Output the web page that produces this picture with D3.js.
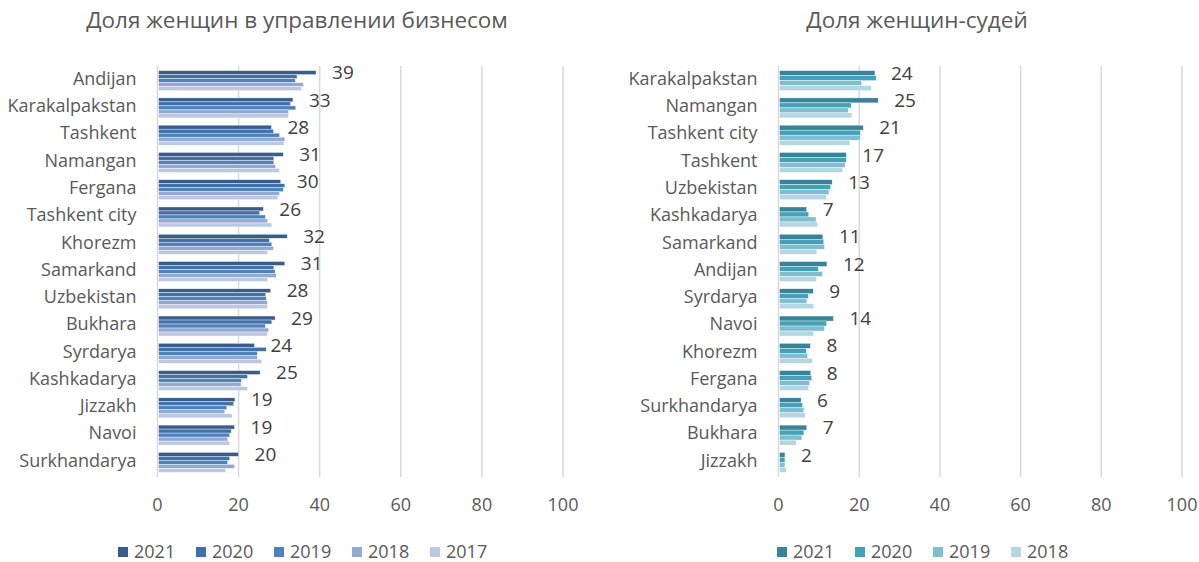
<!DOCTYPE html>
<html>
<head>
<meta charset="utf-8">
<title>Women share</title>
<style>
  body { margin: 0; background: #fff; font-family: "Open Sans", sans-serif; }
  text { fill: #595959; }
</style>
</head>
<body>
<div id="vis"></div>
<script src="https://d3js.org/d3.v7.min.js"></script>
<script>
// left chart: business
var bizRegions = ["Andijan", "Karakalpakstan", "Tashkent", "Namangan", "Fergana", "Tashkent city",
  "Khorezm", "Samarkand", "Uzbekistan", "Bukhara", "Syrdarya", "Kashkadarya", "Jizzakh", "Navoi", "Surkhandarya"];
var bizYears = ["2021", "2020", "2019", "2018", "2017"];
var biz2021 = [39.1, 33.4, 28.1, 31.0, 30.4, 26.1, 32.0, 31.4, 27.9, 29.0, 23.9, 25.3, 19.1, 19.0, 20.0];
var biz2020 = [34.4, 32.8, 28.6, 28.7, 31.4, 25.2, 27.6, 28.7, 26.7, 28.2, 26.8, 22.2, 18.8, 18.2, 17.8];
var biz2019 = [34.0, 34.1, 30.1, 28.7, 31.0, 26.6, 28.2, 29.0, 26.8, 26.6, 24.6, 20.7, 17.1, 17.8, 17.3];
var biz2018 = [36.0, 32.3, 31.4, 29.1, 30.1, 27.1, 28.6, 29.3, 27.1, 27.4, 24.6, 20.6, 16.6, 17.3, 19.0];
var biz2017 = [35.5, 32.3, 31.2, 30.1, 29.7, 28.2, 27.2, 27.2, 27.1, 27.1, 25.7, 22.2, 18.4, 17.8, 16.8];
var bizColors = ["#385d8a", "#4270a8", "#4f81bd", "#93a9d2", "#bac8e2"];

// right chart: judges
var judRegions = ["Karakalpakstan", "Namangan", "Tashkent city", "Tashkent", "Uzbekistan", "Kashkadarya",
  "Samarkand", "Andijan", "Syrdarya", "Navoi", "Khorezm", "Fergana", "Surkhandarya", "Bukhara", "Jizzakh"];
var judYears = ["2021", "2020", "2019", "2018"];
var jud2021 = [23.9, 24.7, 21.0, 16.8, 13.3, 7.0, 11.0, 12.0, 8.6, 13.6, 7.9, 8.0, 5.6, 7.0, 1.6];
var jud2020 = [24.2, 18.0, 20.3, 16.8, 12.9, 7.5, 11.2, 9.9, 7.4, 11.9, 6.9, 8.2, 6.0, 6.3, 1.6];
var jud2019 = [20.6, 17.3, 20.3, 16.5, 12.5, 9.3, 11.4, 10.9, 7.0, 11.4, 7.2, 7.7, 6.3, 5.8, 1.6];
var jud2018 = [23.0, 18.2, 17.7, 15.9, 11.9, 9.7, 9.5, 9.4, 8.7, 8.7, 8.4, 7.5, 6.6, 4.4, 1.9];
var judColors = ["#37839a", "#45a1b8", "#7fbdd1", "#b3d6e2"];

var xTicks = [0, 20, 40, 60, 80, 100];

var svg = d3.select("#vis").append("svg")
  .attr("width", 1199)
  .attr("height", 562);

function drawChart(opt) {
  var g = svg.append("g");

  var x = d3.scaleLinear().domain([0, 100]).range([opt.x0, opt.x1]);
  var y = d3.scaleBand().domain(opt.regions).range([67, 476]).paddingInner(0.266).paddingOuter(0.133);
  var y1 = d3.scaleBand().domain(opt.years).range([0, y.bandwidth()]);

  // gridlines
  g.selectAll(".grid")
    .data(xTicks)
    .enter().append("line")
    .attr("x1", function(d) { return x(d); })
    .attr("x2", function(d) { return x(d); })
    .attr("y1", 66)
    .attr("y2", 477)
    .attr("stroke", "#d9d9d9")
    .attr("stroke-width", 1.5);

  // tick labels
  g.selectAll(".tick")
    .data(xTicks)
    .enter().append("text")
    .attr("x", function(d) { return x(d); })
    .attr("y", 505)
    .attr("dy", "0.35em")
    .attr("text-anchor", "middle")
    .style("font-size", "18px")
    .text(function(d) { return d; });

  // category labels
  g.selectAll(".cat")
    .data(opt.regions)
    .enter().append("text")
    .attr("x", opt.x0 - 21)
    .attr("y", function(d) { return y(d) + y.bandwidth() / 2 - 2; })
    .attr("dy", "0.35em")
    .attr("text-anchor", "end")
    .style("font-size", "18px")
    .text(function(d) { return d; });

  var rows = opt.regions.map(function(r, i) {
    return { region: r, vals: opt.years.map(function(yr, j) { return { year: yr, value: opt.series[j][i], c: opt.colors[j] }; }) };
  });

  var grp = g.selectAll(".grp")
    .data(rows)
    .enter().append("g")
    .attr("transform", function(d) { return "translate(0," + y(d.region) + ")"; });

  grp.selectAll("rect")
    .data(function(d) { return d.vals; })
    .enter().append("rect")
    .attr("x", x(0) + 1)
    .attr("y", function(d) { return y1(d.year); })
    .attr("width", function(d) { return x(d.value) - x(0) - 1; })
    .attr("height", y1.bandwidth())
    .attr("fill", function(d) { return d.c; })
    .attr("stroke", "#fff")
    .attr("stroke-width", 0.4);

  // data labels (2021)
  grp.append("text")
    .attr("x", function(d) { return x(d.vals[0].value) + 16; })
    .attr("y", function(d) { return y1(opt.years[0]) + y1.bandwidth() / 2; })
    .attr("dy", "0.35em")
    .style("font-size", "19px")
    .style("fill", "#404040")
    .text(function(d) { return Math.round(d.vals[0].value); });

  // title
  svg.append("text")
    .attr("x", opt.titleX)
    .attr("y", 20)
    .attr("dy", "0.35em")
    .attr("text-anchor", "middle")
    .style("font-size", "22.5px")
    .text(opt.title);

  // legend
  var leg = svg.selectAll(null)
    .data(opt.years)
    .enter().append("g")
    .attr("transform", function(d, i) { return "translate(" + (opt.legX + i * 78) + ",552)"; });
  leg.append("rect")
    .attr("x", 0).attr("y", -5)
    .attr("width", 10).attr("height", 10)
    .attr("fill", function(d, i) { return opt.colors[i]; });
  leg.append("text")
    .attr("x", 16)
    .attr("dy", "0.35em")
    .style("font-size", "18px")
    .text(function(d) { return d; });
}

drawChart({
  title: "Доля женщин в управлении бизнесом", titleX: 297,
  regions: bizRegions, years: bizYears, colors: bizColors,
  series: [biz2021, biz2020, biz2019, biz2018, biz2017],
  x0: 157.5, x1: 563, legX: 118
});

drawChart({
  title: "Доля женщин-судей", titleX: 917,
  regions: judRegions, years: judYears, colors: judColors,
  series: [jud2021, jud2020, jud2019, jud2018],
  x0: 778.5, x1: 1182, legX: 777
});
</script>
</body>
</html>
